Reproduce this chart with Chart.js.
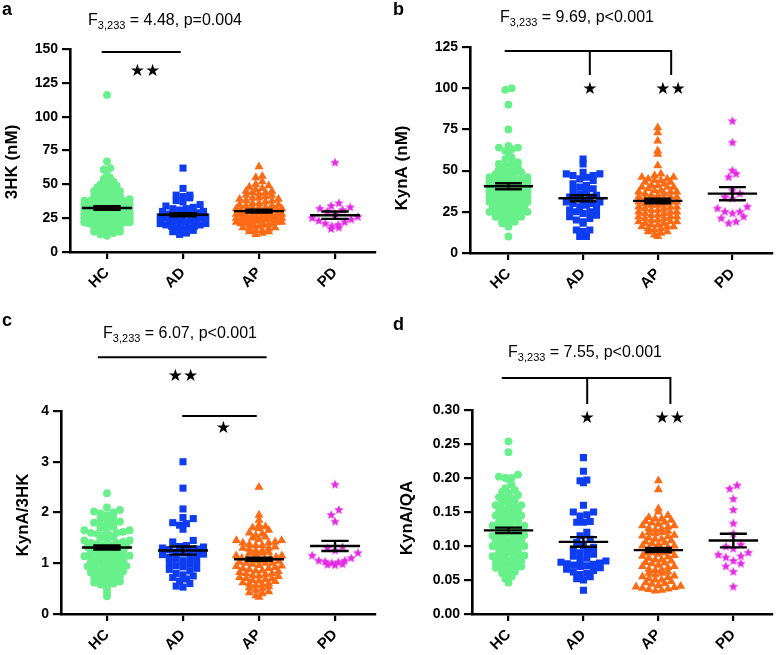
<!DOCTYPE html>
<html>
<head>
<meta charset="utf-8">
<script src="https://cdn.jsdelivr.net/npm/chart.js@4/dist/chart.umd.min.js"></script>
<style>
  html, body { margin: 0; padding: 0; background: #fff; }
  #wrap { position: relative; width: 777px; height: 655px; overflow: hidden; }
  .panel { position: absolute; }
</style>
</head>
<body>
<div id="wrap">
  <div class="panel" style="left:0;top:0;width:388px;height:310px"><canvas id="cA"></canvas></div>
  <div class="panel" style="left:388px;top:0;width:389px;height:310px"><canvas id="cB"></canvas></div>
  <div class="panel" style="left:0;top:310px;width:388px;height:345px"><canvas id="cC"></canvas></div>
  <div class="panel" style="left:388px;top:310px;width:389px;height:345px"><canvas id="cD"></canvas></div>
</div>
<script>
// ---- Data ----
const groups = ['HC', 'AD', 'AP', 'PD'];

// a: 3HK (nM)
const a_HC = [116, 67, 62, 61, 57, 55, 54, 52, 50, 50, 49, 48, 47, 46, 45, 45, 44, 43, 43, 42, 41, 41, 40, 40, 39, 38, 38, 37, 37, 36, 36, 35, 35, 35, 34, 34, 33, 33, 33, 32, 32, 32, 31, 31, 31, 30, 30, 30, 29, 29, 29, 28, 28, 28, 27, 27, 27, 26, 26, 26, 25, 25, 25, 24, 24, 24, 23, 23, 23, 22, 22, 22, 21, 21, 21, 20, 20, 19, 19, 18, 18, 17, 17, 16, 15, 15, 14, 13, 12, 38];
const a_AD = [62, 47, 42, 42, 41, 40, 38, 37, 35, 34, 33, 32, 32, 31, 30, 30, 29, 28, 28, 27, 27, 26, 26, 25, 25, 24, 24, 23, 23, 22, 22, 21, 21, 20, 20, 19, 19, 18, 18, 17, 16, 15, 14, 13];
const a_AP = [63, 56, 55, 52, 50, 49, 48, 47, 46, 45, 45, 44, 43, 42, 42, 41, 40, 40, 39, 38, 38, 37, 36, 36, 35, 35, 34, 34, 33, 33, 32, 32, 31, 31, 30, 30, 30, 29, 29, 29, 28, 28, 28, 27, 27, 27, 26, 26, 26, 25, 25, 25, 24, 24, 24, 23, 23, 23, 22, 22, 22, 21, 21, 21, 20, 20, 20, 19, 19, 18, 18, 17, 17, 16, 16, 15, 15, 14, 13, 44, 39, 33, 31, 28, 24];
const a_PD = [66, 36, 34, 33, 32, 31, 30, 28, 26, 25, 24, 23, 22, 21, 20, 19, 18, 17];
const a_mean = [32.5, 27.5, 30.2, 27.2];
const a_sem = [1.3, 1.2, 1.0, 2.7];
const a_yTicks = [0, 25, 50, 75, 100, 125, 150];

// b: KynA (nM)
const b_HC = [100, 99, 90, 75, 65, 64, 64, 63, 62, 60, 58, 57, 55, 54, 54, 53, 52, 51, 50, 50, 49, 48, 48, 47, 46, 46, 45, 45, 44, 44, 43, 43, 42, 42, 41, 41, 40, 40, 39, 39, 38, 38, 37, 37, 36, 36, 35, 35, 34, 34, 33, 33, 32, 32, 31, 31, 30, 30, 29, 29, 28, 28, 27, 27, 26, 26, 25, 25, 25, 24, 24, 23, 23, 22, 22, 21, 20, 20, 19, 18, 17, 16, 10, 47, 44, 41, 38, 35, 32, 29];
const b_AD = [57, 54, 49, 48, 48, 47, 47, 46, 45, 44, 42, 41, 40, 39, 38, 37, 36, 35, 34, 34, 33, 32, 31, 30, 30, 29, 28, 27, 26, 25, 25, 24, 23, 22, 21, 20, 19, 18, 14, 14, 13, 10, 10, 31];
const b_AP = [76, 73, 68, 62, 60, 53, 48, 47, 46, 45, 45, 44, 44, 43, 42, 41, 41, 40, 40, 39, 38, 38, 37, 37, 36, 36, 35, 35, 34, 34, 33, 33, 32, 32, 31, 31, 30, 30, 29, 29, 28, 28, 27, 27, 26, 26, 25, 25, 24, 24, 23, 23, 22, 22, 21, 21, 20, 20, 19, 19, 18, 18, 17, 17, 16, 16, 15, 15, 14, 13, 12, 11, 10, 22, 25, 28, 31, 34, 37, 40, 43, 19, 16, 13, 46];
const b_PD = [80, 67, 50, 48, 46, 38, 36, 34, 33, 28, 27, 25, 25, 24, 22, 21, 19, 18];
const b_mean = [40.5, 33.2, 31.6, 36.0];
const b_sem = [1.8, 1.8, 1.4, 4.0];
const b_yTicks = [0, 25, 50, 75, 100, 125];

// c: KynA/3HK
const c_HC = [2.38, 2.1, 2.05, 2.02, 2.0, 1.98, 1.95, 1.9, 1.88, 1.85, 1.82, 1.8, 1.78, 1.75, 1.72, 1.7, 1.68, 1.65, 1.62, 1.6, 1.58, 1.55, 1.52, 1.5, 1.48, 1.45, 1.42, 1.4, 1.38, 1.36, 1.34, 1.32, 1.3, 1.28, 1.26, 1.24, 1.22, 1.2, 1.18, 1.16, 1.14, 1.12, 1.1, 1.08, 1.06, 1.04, 1.02, 1.0, 0.98, 0.96, 0.94, 0.92, 0.9, 0.88, 0.86, 0.84, 0.82, 0.8, 0.78, 0.76, 0.74, 0.72, 0.7, 0.68, 0.66, 0.64, 0.62, 0.6, 0.58, 0.55, 0.5, 0.42, 0.35, 1.3, 1.25, 1.35, 1.15, 1.45, 1.05, 1.55, 0.95, 1.65, 0.85, 1.75, 1.2, 1.4, 1.0, 1.6, 0.8, 1.1];
const c_AD = [3.0, 2.48, 2.07, 1.9, 1.88, 1.8, 1.78, 1.75, 1.67, 1.45, 1.42, 1.35, 1.32, 1.3, 1.28, 1.25, 1.22, 1.2, 1.18, 1.15, 1.12, 1.1, 1.08, 1.05, 1.02, 1.0, 0.98, 0.95, 0.93, 0.9, 0.88, 0.85, 0.8, 0.77, 0.75, 0.72, 0.69, 0.65, 0.6, 0.55, 0.53, 1.27, 1.17, 1.33];
const c_AP = [2.5, 1.95, 1.85, 1.75, 1.72, 1.7, 1.68, 1.65, 1.6, 1.58, 1.55, 1.52, 1.5, 1.47, 1.45, 1.42, 1.4, 1.37, 1.35, 1.32, 1.3, 1.28, 1.25, 1.22, 1.2, 1.18, 1.15, 1.12, 1.1, 1.08, 1.06, 1.04, 1.02, 1.0, 0.98, 0.96, 0.94, 0.92, 0.9, 0.88, 0.86, 0.84, 0.82, 0.8, 0.78, 0.76, 0.74, 0.72, 0.7, 0.68, 0.66, 0.64, 0.62, 0.6, 0.58, 0.56, 0.54, 0.52, 0.5, 0.47, 0.44, 0.42, 0.4, 0.36, 0.33, 1.1, 1.05, 1.0, 0.95, 0.9, 1.15, 1.2, 0.85, 0.8, 1.25, 1.3, 0.75, 0.7, 1.35, 1.4, 0.65, 0.6, 1.45, 1.0, 1.1];
const c_PD = [2.55, 2.05, 1.95, 1.82, 1.32, 1.3, 1.25, 1.2, 1.15, 1.1, 1.05, 1.05, 1.02, 1.0, 0.98, 0.96, 0.97, 1.03];
const c_mean = [1.31, 1.25, 1.08, 1.34];
const c_sem = [0.04, 0.08, 0.03, 0.1];
const c_yTicks = [0, 1, 2, 3, 4];

// d: KynA/QA
const d_HC = [0.254, 0.238, 0.205, 0.202, 0.2, 0.2, 0.198, 0.19, 0.185, 0.182, 0.18, 0.178, 0.175, 0.172, 0.17, 0.168, 0.165, 0.162, 0.16, 0.158, 0.155, 0.152, 0.15, 0.148, 0.145, 0.142, 0.14, 0.138, 0.135, 0.132, 0.13, 0.128, 0.126, 0.124, 0.122, 0.12, 0.118, 0.116, 0.114, 0.112, 0.11, 0.108, 0.106, 0.104, 0.102, 0.1, 0.098, 0.096, 0.094, 0.092, 0.09, 0.088, 0.086, 0.084, 0.082, 0.08, 0.078, 0.076, 0.074, 0.072, 0.07, 0.068, 0.066, 0.064, 0.062, 0.06, 0.06, 0.055, 0.052, 0.046, 0.12, 0.13, 0.11, 0.14, 0.1, 0.15, 0.09, 0.16, 0.08, 0.17, 0.125, 0.115, 0.135, 0.105, 0.145, 0.095, 0.155, 0.085, 0.075, 0.065];
const d_AD = [0.23, 0.21, 0.197, 0.196, 0.193, 0.16, 0.15, 0.15, 0.146, 0.144, 0.136, 0.135, 0.135, 0.12, 0.115, 0.11, 0.105, 0.1, 0.098, 0.095, 0.092, 0.09, 0.088, 0.085, 0.082, 0.08, 0.078, 0.076, 0.075, 0.074, 0.072, 0.07, 0.068, 0.066, 0.064, 0.062, 0.06, 0.058, 0.055, 0.052, 0.05, 0.035, 0.073, 0.071];
const d_AP = [0.196, 0.183, 0.155, 0.15, 0.145, 0.142, 0.14, 0.138, 0.136, 0.134, 0.132, 0.13, 0.128, 0.126, 0.124, 0.122, 0.12, 0.118, 0.116, 0.114, 0.112, 0.11, 0.108, 0.106, 0.104, 0.102, 0.1, 0.098, 0.096, 0.094, 0.092, 0.09, 0.088, 0.086, 0.084, 0.082, 0.08, 0.078, 0.076, 0.074, 0.072, 0.07, 0.068, 0.066, 0.064, 0.062, 0.06, 0.058, 0.056, 0.054, 0.052, 0.05, 0.048, 0.046, 0.044, 0.042, 0.04, 0.038, 0.036, 0.034, 0.035, 0.037, 0.039, 0.041, 0.1, 0.095, 0.09, 0.085, 0.08, 0.105, 0.11, 0.075, 0.07, 0.115, 0.12, 0.065, 0.06, 0.125, 0.13, 0.055, 0.05, 0.135, 0.14, 0.045, 0.09];
const d_PD = [0.189, 0.184, 0.169, 0.153, 0.133, 0.118, 0.102, 0.099, 0.096, 0.09, 0.087, 0.085, 0.083, 0.078, 0.074, 0.07, 0.062, 0.04];
const d_mean = [0.123, 0.106, 0.094, 0.108];
const d_sem = [0.004, 0.007, 0.003, 0.01];
const d_yTicks = [0, 0.05, 0.10, 0.15, 0.20, 0.25, 0.30];

// ---- Styling ----
const FONT = '"Liberation Sans", Arial, Helvetica, sans-serif';
const colors = ['#68f08a', '#0d3cf2', '#ff6a14', '#e52ae5'];

function makeStar(color, r) {
    const c = document.createElement('canvas');
    const s = Math.ceil(r * 2) + 2;
    c.width = c.height = s;
    const g = c.getContext('2d');
    g.fillStyle = color;
    g.beginPath();
    for (let i = 0; i < 10; i++) {
        const rad = i % 2 ? r * 0.45 : r;
        const ang = -Math.PI / 2 + i * Math.PI / 5;
        g.lineTo(s / 2 + rad * Math.cos(ang), s / 2 + rad * Math.sin(ang));
    }
    g.closePath();
    g.fill();
    return c;
}
const starImg = makeStar(colors[3], 5);
const pointStyles = ['circle', 'rect', 'triangle', starImg];
const pointRadii = [3.9, 5, 5.2, 5];
// sparse groups get taller rows and a wider step, like the Prism scatter layout
const binScale = [1, 1.4, 1, 2.2];
const stepSize = [0.085, 0.09, 0.085, 0.1];

// beeswarm: values in the same row are spread sideways, lowest in the middle,
// rows never wider than maxHalf on each side
function swarm(values, center, bin, step, maxHalf) {
    const rows = {};
    values.forEach(v => {
        const k = Math.round(v / bin);
        (rows[k] = rows[k] || []).push(v);
    });
    const pts = [];
    Object.keys(rows).forEach(k => {
        const vs = rows[k].slice().sort((p, q) => p - q);
        const n = vs.length;
        let st = step;
        if (n > 1 && (n - 1) / 2 * st > maxHalf) st = maxHalf / ((n - 1) / 2);
        const slots = [];
        for (let j = 0; j < n; j++) slots.push(j - (n - 1) / 2);
        slots.sort((p, q) => Math.abs(p) - Math.abs(q) || p - q);
        vs.forEach((v, i) => pts.push({ x: center + slots[i] * st, y: v }));
    });
    return pts;
}

function errorBars(means, sems) {
    const pts = [];
    means.forEach((m, i) => {
        const s = sems[i];
        pts.push({ x: i - 0.33, y: m }, { x: i + 0.33, y: m }, { x: i, y: null });
        pts.push({ x: i - 0.18, y: m + s }, { x: i + 0.18, y: m + s }, { x: i, y: null });
        pts.push({ x: i - 0.18, y: m - s }, { x: i + 0.18, y: m - s }, { x: i, y: null });
        pts.push({ x: i, y: m - s }, { x: i, y: m + s }, { x: i, y: null });
    });
    return pts;
}

// text drawn on top: panel letter, F statistic, y title, significance stars
const textPlugin = {
    id: 'panelText',
    afterDraw(chart, args, o) {
        const ctx = chart.ctx;
        ctx.save();
        ctx.fillStyle = '#000';
        ctx.textBaseline = 'alphabetic';
        ctx.textAlign = 'left';
        ctx.font = 'bold 18px ' + FONT;
        ctx.fillText(o.letter, o.letterX, o.letterY);

        // F title with subscript
        ctx.font = '16px ' + FONT;
        const wF = ctx.measureText('F').width;
        const wRest = ctx.measureText(o.rest).width;
        ctx.font = '11px ' + FONT;
        const wSub = ctx.measureText('3,233').width;
        let x = o.titleX - (wF + wSub + wRest) / 2;
        ctx.font = '16px ' + FONT;
        ctx.fillText('F', x, o.titleY);
        x += wF;
        ctx.font = '11px ' + FONT;
        ctx.fillText('3,233', x, o.titleY + 4);
        x += wSub;
        ctx.font = '16px ' + FONT;
        ctx.fillText(o.rest, x, o.titleY);

        // y title
        ctx.save();
        ctx.translate(o.yTitleX, o.yTitleY);
        ctx.rotate(-Math.PI / 2);
        ctx.textAlign = 'center';
        ctx.textBaseline = 'middle';
        ctx.font = 'bold 17px ' + FONT;
        ctx.fillText(o.yTitle, 0, 0);
        ctx.restore();

        // stars
        const xs = chart.scales.x, ys = chart.scales.y;
        ctx.textAlign = 'center';
        ctx.textBaseline = 'middle';
        ctx.font = '17px "DejaVu Sans", sans-serif';
        o.stars.forEach(s => {
            ctx.fillText(s.t, xs.getPixelForValue(s.x), ys.getPixelForValue(s.y));
        });
        ctx.restore();
    }
};

function makePanel(cfg) {
    const canvas = document.getElementById(cfg.id);
    canvas.width = cfg.w;
    canvas.height = cfg.h;
    canvas.style.width = cfg.w + 'px';
    canvas.style.height = cfg.h + 'px';

    const datasets = [];
    cfg.series.forEach((vals, i) => {
        datasets.push({
            type: 'scatter',
            data: swarm(vals, i, cfg.bin * binScale[i], stepSize[i], 0.3),
            pointStyle: pointStyles[i],
            pointRadius: pointRadii[i],
            backgroundColor: colors[i],
            borderWidth: 0,
            order: 2
        });
    });
    datasets.push({
        type: 'line',
        data: errorBars(cfg.mean, cfg.sem),
        borderColor: '#000',
        borderWidth: 2.4,
        pointRadius: 0,
        spanGaps: false,
        order: 1
    });
    cfg.brackets.forEach(b => {
        datasets.push({
            type: 'line',
            data: b.map(p => ({ x: p[0], y: p[1] })),
            borderColor: '#000',
            borderWidth: 2,
            pointRadius: 0,
            clip: false,
            order: 1
        });
    });

    const tickFont = { family: FONT, size: 14, weight: 'bold' };
    new Chart(canvas, {
        type: 'scatter',
        data: { datasets },
        options: {
            responsive: false,
            animation: false,
            events: [],
            layout: { padding: { top: cfg.top, right: cfg.padRight, bottom: 0, left: 0 } },
            plugins: {
                legend: { display: false },
                tooltip: { enabled: false },
                panelText: cfg.text
            },
            scales: {
                x: {
                    type: 'linear',
                    min: cfg.xMin,
                    max: cfg.xMax,
                    afterBuildTicks: s => { s.ticks = groups.map((g, i) => ({ value: i })); },
                    afterFit: s => { s.height = cfg.h - cfg.bottom; },
                    ticks: {
                        callback: v => groups[v],
                        minRotation: 45,
                        maxRotation: 45,
                        color: '#000',
                        font: { family: FONT, size: 15, weight: 'bold' },
                        padding: 5
                    },
                    grid: { drawOnChartArea: false, color: '#000', lineWidth: 2.2, tickLength: 7 },
                    border: { color: '#000', width: 2.6 }
                },
                y: {
                    min: cfg.yTicks[0],
                    max: cfg.yTicks[cfg.yTicks.length - 1],
                    afterBuildTicks: s => { s.ticks = cfg.yTicks.map(v => ({ value: v })); },
                    afterFit: s => { s.width = cfg.left; },
                    ticks: {
                        callback: v => v.toFixed(cfg.dec),
                        color: '#000',
                        font: tickFont,
                        padding: 4
                    },
                    grid: { drawOnChartArea: false, color: '#000', lineWidth: 2.2, tickLength: 8 },
                    border: { color: '#000', width: 2.6 }
                }
            }
        },
        plugins: [textPlugin]
    });
}

makePanel({
    id: 'cA', w: 388, h: 310, left: 70, top: 49, bottom: 252, padRight: 13,
    xMin: -0.487, xMax: 3.526, yTicks: a_yTicks, dec: 0, bin: 3.4,
    series: [a_HC, a_AD, a_AP, a_PD], mean: a_mean, sem: a_sem,
    brackets: [[[-0.07, 147.7], [0.97, 147.7]]],
    text: {
        letter: 'a', letterX: 2, letterY: 15, titleX: 165, titleY: 25, rest: ' = 4.48, p=0.004',
        yTitle: '3HK (nM)', yTitleX: 12, yTitleY: 162,
        stars: [{ x: 0.5, y: 133, t: '★★' }]
    }
});

makePanel({
    id: 'cB', w: 389, h: 310, left: 82, top: 47, bottom: 253, padRight: 1,
    xMin: -0.515, xMax: 3.528, yTicks: b_yTicks, dec: 0, bin: 3.0,
    series: [b_HC, b_AD, b_AP, b_PD], mean: b_mean, sem: b_sem,
    brackets: [
        [[-0.05, 122.6], [2.18, 122.6], [2.18, 108]],
        [[1.09, 122.6], [1.09, 108]]
    ],
    text: {
        letter: 'b', letterX: 5, letterY: 15, titleX: 189, titleY: 22, rest: ' = 9.69, p<0.001',
        yTitle: 'KynA (nM)', yTitleX: 14, yTitleY: 168,
        stars: [{ x: 1.09, y: 99, t: '★' }, { x: 2.17, y: 99, t: '★★' }]
    }
});

makePanel({
    id: 'cC', w: 388, h: 345, left: 61, top: 101, bottom: 304, padRight: 13,
    xMin: -0.605, xMax: 3.526, yTicks: c_yTicks, dec: 0, bin: 0.1,
    series: [c_HC, c_AD, c_AP, c_PD], mean: c_mean, sem: c_sem,
    brackets: [
        [[-0.12, 5.06], [2.1, 5.06]],
        [[0.99, 3.9], [1.97, 3.9]]
    ],
    text: {
        letter: 'c', letterX: 2, letterY: 16, titleX: 180, titleY: 28, rest: ' = 6.07, p<0.001',
        yTitle: 'KynA/3HK', yTitleX: 23, yTitleY: 205,
        stars: [{ x: 1.0, y: 4.67, t: '★★' }, { x: 1.53, y: 3.65, t: '★' }]
    }
});

makePanel({
    id: 'cD', w: 389, h: 345, left: 84, top: 100, bottom: 304, padRight: 1,
    xMin: -0.487, xMax: 3.513, yTicks: d_yTicks, dec: 2, bin: 0.0075,
    series: [d_HC, d_AD, d_AP, d_PD], mean: d_mean, sem: d_sem,
    brackets: [
        [[-0.09, 0.347], [2.16, 0.347], [2.16, 0.309]],
        [[1.05, 0.347], [1.05, 0.309]]
    ],
    text: {
        letter: 'd', letterX: 5, letterY: 20, titleX: 197, titleY: 47, rest: ' = 7.55, p<0.001',
        yTitle: 'KynA/QA', yTitleX: 19, yTitleY: 208,
        stars: [{ x: 1.05, y: 0.288, t: '★' }, { x: 2.15, y: 0.288, t: '★★' }]
    }
});
</script>
</body>
</html>
